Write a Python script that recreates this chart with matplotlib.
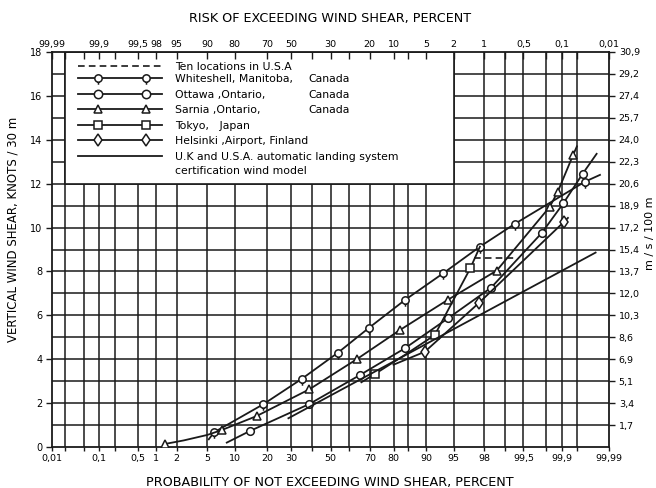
import numpy as np
import matplotlib
matplotlib.use("Agg")
import matplotlib.pyplot as plt
from matplotlib.path import Path
from matplotlib.patches import Rectangle
from statistics import NormalDist

# probability-paper chart of vertical wind shear (knots / 30 m)

bottom_ticks = [0.01, 0.1, 0.5, 1, 2, 5, 10, 20, 30, 50, 70, 80, 90, 95, 98, 99.5, 99.9, 99.99]
bottom_labels = ['0,01', '0,1', '0,5', '1', '2', '5', '10', '20', '30', '50', '70', '80',
                 '90', '95', '98', '99,5', '99,9', '99,99']
top_labels = ['99,99', '99,9', '99,5', '98', '95', '90', '80', '70', '50', '30', '20', '10',
              '5', '2', '1', '0,5', '0,1', '0,01']
grid_p = [0.02, 0.05, 0.1, 0.2, 0.5, 1, 2, 5, 10, 20, 30, 40, 50, 60, 70, 80, 85, 90, 95,
          98, 99, 99.5, 99.8, 99.9, 99.95]
knots_left = [0, 2, 4, 6, 8, 10, 12, 14, 16, 18]
knots_right = list(range(1, 19))
ms_labels = ['1,7', '3,4', '5,1', '6,9', '8,6', '10,3', '12,0', '13,7', '15,4', '17,2',
             '18,9', '20,6', '22,3', '24,0', '25,7', '27,4', '29,2', '30,9']

# series: percent not exceeding, knots
usa_p = [97.2, 99.3]
usa_v = [8.6, 8.6]
whiteshell_p = [5.2, 6.0, 18.5, 35, 54, 69.5, 84, 93.4, 97.7, 99.3, 99.966, 99.984]
whiteshell_v = [0.35, 0.67, 1.95, 3.10, 4.30, 5.42, 6.70, 7.92, 9.13, 10.16, 12.09, 12.4]
whiteshell_mk = [1, 2, 3, 4, 5, 6, 7, 8, 9, 10]
ottawa_p = [8.3, 14.1, 38.9, 65.3, 84.0, 94.2, 98.4, 99.76, 99.906, 99.962, 99.981]
ottawa_v = [0.2, 0.73, 1.96, 3.28, 4.5, 5.87, 7.26, 9.75, 11.1, 12.45, 13.36]
ottawa_mk = [1, 2, 3, 4, 5, 6, 7, 8, 9]
sarnia_p = [1.36, 2.5, 5.0, 7.3, 16.2, 38.9, 63.7, 82.3, 94.1, 98.68, 99.83, 99.88, 99.94, 99.95]
sarnia_v = [0.14, 0.3, 0.55, 0.77, 1.41, 2.63, 4.0, 5.33, 6.70, 8.04, 10.95, 11.64, 13.3, 13.7]
sarnia_mk = [0, 3, 4, 5, 6, 7, 8, 9, 10, 11, 12]
tokyo_p = [66, 72.4, 84, 91.8, 96.9, 97.7]
tokyo_v = [2.95, 3.33, 4.2, 5.1, 8.14, 9.13]
tokyo_mk = [1, 3, 4]
helsinki_p = [80, 89.6, 97.6, 99.91, 99.924]
helsinki_v = [3.75, 4.34, 6.55, 10.27, 10.44]
helsinki_mk = [1, 2, 3]
model_p = [28.7, 99.98]
model_v = [1.31, 8.86]

nd = NormalDist()
ppf = np.vectorize(lambda q: nd.inv_cdf(q), otypes=[float])
cdf = np.vectorize(lambda q: nd.cdf(q), otypes=[float])


def forward(p):
    return ppf(np.clip(np.asarray(p, dtype=float) / 100.0, 1e-9, 1 - 1e-9))


def inverse(zv):
    return cdf(np.asarray(zv, dtype=float)) * 100.0


# circle with a little stem, as used for Whiteshell
pin = Path.make_compound_path(Path.unit_circle(),
                              Path([[0, -1], [0, -1.7]], [Path.MOVETO, Path.LINETO]))

ink = '#1a1a1a'
plt.rcParams['font.family'] = 'DejaVu Sans'

fig = plt.figure(figsize=(6.56, 4.88), dpi=100)
ax = fig.add_axes([52 / 656, 1 - 447 / 488, 557 / 656, 395 / 488])
ax.set_xscale('function', functions=(forward, inverse))
ax.set_xlim(0.01, 99.99)
ax.set_ylim(0, 18)

# grid drawn by hand so the legend panel can blank it out
ax.vlines(grid_p, 0, 18, color=ink, lw=1.1, zorder=1)
ax.hlines(range(1, 18), 0.01, 99.99, color=ink, lw=1.1, zorder=1)
ax.add_patch(Rectangle((0.02, 12), 95 - 0.02, 6, facecolor='white', edgecolor=ink,
                       lw=1.2, zorder=1.5))

lw = 1.3
kw = dict(color=ink, lw=lw, markerfacecolor='white', markeredgecolor=ink,
          markeredgewidth=1.1)
ax.plot(usa_p, usa_v, ls=(0, (4, 2.5)), color=ink, lw=1.2, zorder=3)
ax.plot(whiteshell_p, whiteshell_v, marker=pin, ms=9, markevery=whiteshell_mk, zorder=3, **kw)
ax.plot(ottawa_p, ottawa_v, marker='o', ms=5.5, markevery=ottawa_mk, zorder=3, **kw)
ax.plot(sarnia_p, sarnia_v, marker='^', ms=6, markevery=sarnia_mk, zorder=3, **kw)
ax.plot(tokyo_p, tokyo_v, marker='s', ms=5.5, markevery=tokyo_mk, zorder=3, **kw)
ax.plot(helsinki_p, helsinki_v, marker='d', ms=6, markevery=helsinki_mk, zorder=3, **kw)
ax.plot(model_p, model_v, color=ink, lw=lw, zorder=3)

for s in ax.spines.values():
    s.set_linewidth(1.3)
    s.set_color(ink)

ax.set_xticks(bottom_ticks)
ax.set_xticklabels(bottom_labels, fontsize=6.8)
ax.set_xticks(grid_p, minor=True)
ax.set_yticks(knots_left)
ax.set_yticklabels([str(k) for k in knots_left], fontsize=7)
ax.tick_params(axis='x', which='both', direction='out', length=3, width=1, pad=2, color=ink)
ax.tick_params(axis='y', direction='out', length=4, width=1, pad=3, color=ink)
ax.set_ylabel('VERTICAL WIND SHEAR, KNOTS / 30 m', fontsize=8.5)
ax.yaxis.set_label_coords(-0.058, 0.55)

# top axis: risk of exceeding
axt = ax.twiny()
axt.set_xscale('function', functions=(forward, inverse))
axt.set_xlim(ax.get_xlim())
axt.set_xticks(bottom_ticks)
axt.set_xticklabels(top_labels, fontsize=6.8)
axt.set_xticks(grid_p, minor=True)
axt.tick_params(axis='x', which='both', direction='in', length=5, width=1, pad=2, color=ink)
for s in axt.spines.values():
    s.set_visible(False)

# right axis: m/s/100 m
axr = ax.twinx()
axr.set_ylim(0, 18)
axr.set_yticks(knots_right)
axr.set_yticklabels(ms_labels, fontsize=6.8)
axr.tick_params(axis='y', direction='out', length=4, width=1, pad=3, color=ink)
axr.set_ylabel('m / s / 100 m', fontsize=8, rotation=90)
axr.yaxis.set_label_coords(1.065, 0.54)
for s in axr.spines.values():
    s.set_visible(False)

fig.text(0.503, 0.963, 'RISK OF EXCEEDING WIND SHEAR, PERCENT', ha='center', va='center',
         fontsize=9.2)
fig.text(0.503, 0.012, 'PROBABILITY OF NOT EXCEEDING WIND SHEAR, PERCENT', ha='center',
         va='center', fontsize=9.2)


# hand-made legend inside the blank panel (pixel positions of the scan)
def fx(px):
    return (px - 52) / 557


def fy(py):
    return (447 - py) / 395


rows = [
    (66, 'Ten locations in U.S.A', None, None),
    (78, 'Whiteshell, Manitoba,', pin, 'Canada'),
    (94, 'Ottawa ,Ontario,', 'o', 'Canada'),
    (109, 'Sarnia ,Ontario,', '^', 'Canada'),
    (125, 'Tokyo,   Japan', 's', None),
    (140, 'Helsinki ,Airport, Finland', 'd', None),
    (156, 'U.K and U.S.A. automatic landing system', '', None),
]
for py, label, mk, extra in rows:
    if mk is None:
        ax.plot([fx(78), fx(162)], [fy(py), fy(py)], transform=ax.transAxes,
                ls=(0, (4, 2.5)), color=ink, lw=1.2, zorder=4, clip_on=False)
    elif mk == '':
        ax.plot([fx(78), fx(162)], [fy(py), fy(py)], transform=ax.transAxes,
                color=ink, lw=lw, zorder=4, clip_on=False)
    else:
        size = 9 if mk is pin else 6
        ax.plot([fx(78), fx(98), fx(146), fx(162)], [fy(py)] * 4, transform=ax.transAxes,
                marker=mk, ms=size, markevery=[1, 2], zorder=4, clip_on=False, **kw)
    ax.text(fx(175), fy(py + 1), label, transform=ax.transAxes, fontsize=7.8,
            va='center', ha='left', zorder=5)
    if extra:
        ax.text(fx(308), fy(py + 1), extra, transform=ax.transAxes, fontsize=7.8,
                va='center', ha='left', zorder=5)
ax.text(fx(175), fy(171), 'certification wind model', transform=ax.transAxes,
        fontsize=7.8, va='center', ha='left', zorder=5)

fig.savefig('out.png', dpi=100)
